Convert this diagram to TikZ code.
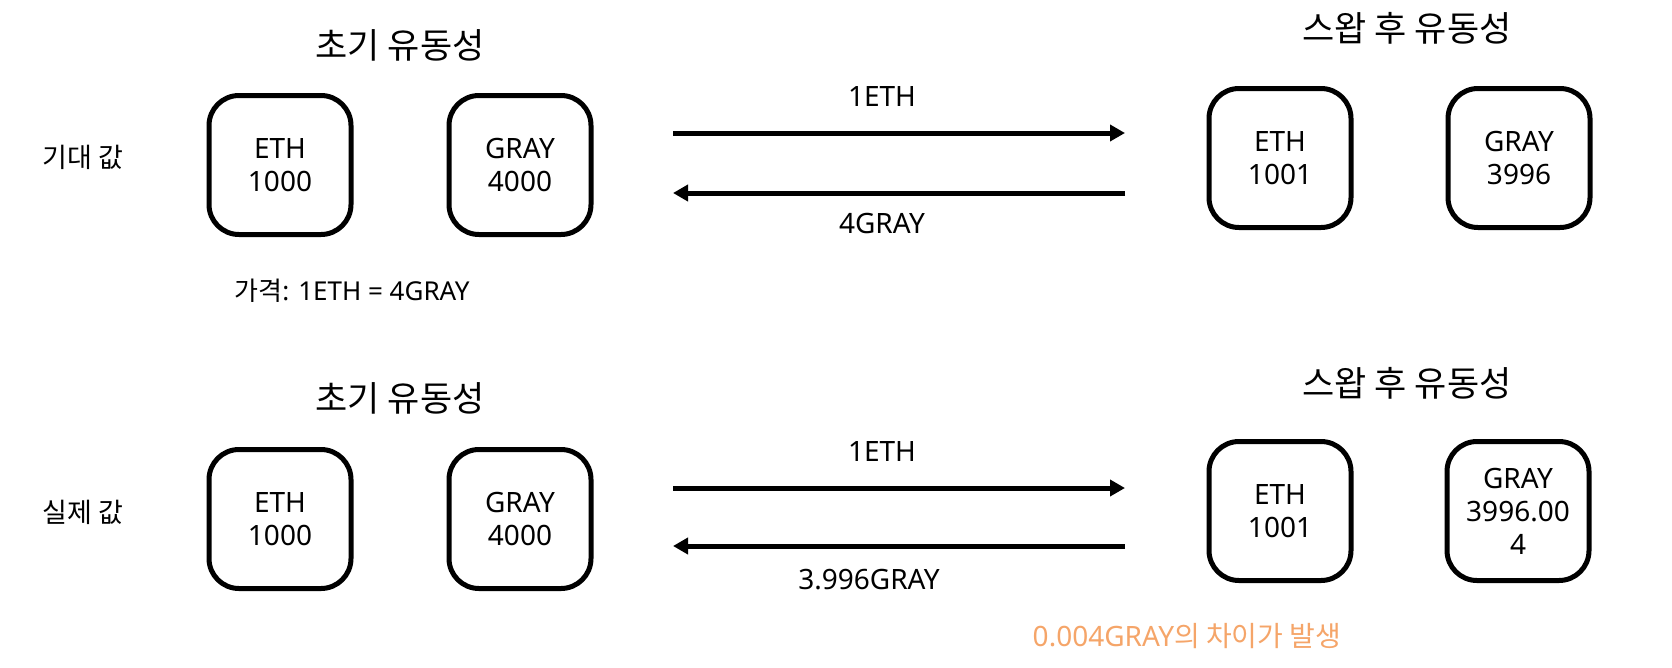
\documentclass[tikz,border=0pt]{standalone}
\usepackage{fontspec}
\setmainfont{Noto Sans}
\newfontfamily\kr{Noto Sans CJK KR}
\usetikzlibrary{arrows.meta}
\definecolor{diffor}{RGB}{245,165,105}
\tikzset{
  tokbox/.style={draw=black, line width=5pt, rounded corners=30pt, minimum width=142pt, minimum height=139pt, align=center, inner sep=0pt, font=\fontsize{28}{33}\selectfont},
  flow/.style={line width=5pt, -{Triangle[length=15pt,width=16pt]}},
  lbl/.style={inner sep=0pt, font=\fontsize{28}{33}\selectfont},
  ttl/.style={inner sep=0pt, font=\kr\fontsize{35}{40}\selectfont},
}
\begin{document}
\begin{tikzpicture}[x=1pt,y=-1pt]
\useasboundingbox (0,0) rectangle (1672,667);
% ---- top row ----
\node[ttl] (t1) at (400,45) {초기 유동성};
\node[ttl] (t2) at (1407,28) {스왑 후 유동성};
\node[lbl,font=\kr\fontsize{27}{32}\selectfont] (l1) at (83,157) {기대 값};
\node[tokbox] (e1) at (280,165) {ETH\\1000};
\node[tokbox] (g1) at (520,165) {GRAY\\4000};
\node[tokbox] (e2) at (1280,158) {ETH\\1001};
\node[tokbox] (g2) at (1519,158) {GRAY\\3996};
\node[lbl,font=\fontsize{26}{30}\selectfont] (p1) at (352,291) {{\kr 가격}: 1ETH = 4GRAY};
\coordinate (a1s) at (673,133);
\coordinate (a1e) at (1125,133);
\coordinate (b1s) at (1125,193);
\coordinate (b1e) at (673,193);
\draw[flow] (a1s) -- (a1e);
\draw[flow] (b1s) -- (b1e);
\node[lbl] (x1) at (882,97) {1ETH};
\node[lbl] (y1) at (882,223) {4GRAY};
% ---- bottom row ----
\node[ttl] (t3) at (400,398) {초기 유동성};
\node[ttl] (t4) at (1407,383) {스왑 후 유동성};
\node[lbl,font=\kr\fontsize{27}{32}\selectfont] (l2) at (83,512) {실제 값};
\node[tokbox] (e3) at (280,519) {ETH\\1000};
\node[tokbox] (g3) at (520,519) {GRAY\\4000};
\node[tokbox] (e4) at (1280,511) {ETH\\1001};
\node[tokbox] (g4) at (1518,511) {GRAY\\3996.00\\4};
\coordinate (a2s) at (673,488);
\coordinate (a2e) at (1125,488);
\coordinate (b2s) at (1125,546);
\coordinate (b2e) at (673,546);
\draw[flow] (a2s) -- (a2e);
\draw[flow] (b2s) -- (b2e);
\node[lbl] (x2) at (882,451) {1ETH};
\node[lbl] (y2) at (869,580) {3.996GRAY};
\node[lbl,text=diffor] (d1) at (1187,636) {0.004GRAY{\kr 의 차이가 발생}};
\end{tikzpicture}
\end{document}
